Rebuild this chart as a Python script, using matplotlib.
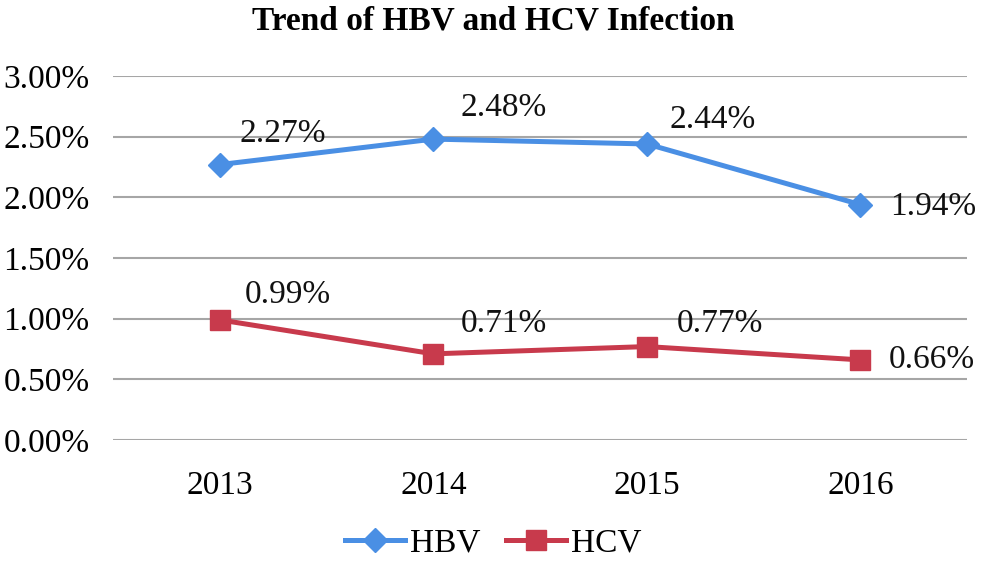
import matplotlib
matplotlib.use("Agg")
import matplotlib.pyplot as plt
import numpy as np

years = ["2013", "2014", "2015", "2016"]
hbv = [2.27, 2.48, 2.44, 1.94]
hcv = [0.99, 0.71, 0.77, 0.66]
yticks = [0.0, 0.5, 1.0, 1.5, 2.0, 2.5, 3.0]

plt.rcParams['font.family'] = ['Liberation Serif', 'DejaVu Serif']

fig = plt.figure(figsize=(9.86, 5.64), dpi=100)
ax = fig.add_axes([0.1146, 0.2199, 0.981 - 0.1146, 0.8652 - 0.2199])

x = np.arange(len(years))
blue = "#4A8FE4"
red = "#C83A4C"
ax.plot(x, hbv, color=blue, lw=3.6, marker="D", ms=12, label="HBV", zorder=3)
ax.plot(x, hcv, color=red, lw=3.6, marker="s", ms=14, label="HCV", zorder=3)

hbv_off = [(20, 31), (27, 31), (23, 24), (30, -2)]
hcv_off = [(25, 25), (27, 30), (30, 23), (28, 0)]
for xi, v, off in zip(x, hbv, hbv_off):
    ax.annotate(f"{v:.2f}%", (xi, v), xytext=off, textcoords="offset pixels",
                ha="left", va="center", fontsize=24, color="#111111")
for xi, v, off in zip(x, hcv, hcv_off):
    ax.annotate(f"{v:.2f}%", (xi, v), xytext=off, textcoords="offset pixels",
                ha="left", va="center", fontsize=24, color="#111111")

ax.set_xlim(-0.5, len(years) - 0.5)
ax.set_ylim(0, 3.0)
ax.set_yticks(yticks)
ax.set_yticklabels([f"{t:.2f}%" for t in yticks], fontsize=24)
ax.set_xticks(x)
ax.set_xticklabels(years, fontsize=24)
ax.tick_params(axis="x", length=0, pad=22)
ax.tick_params(axis="y", length=0, pad=17)
ax.yaxis.grid(True, color="#A6A6A6", lw=1.5)
ax.set_axisbelow(True)
for s in ax.spines.values():
    s.set_visible(False)

fig.suptitle("Trend of HBV and HCV Infection", fontsize=24, fontweight="bold", y=0.99)
fig.legend(loc="center", bbox_to_anchor=(0.5, 0.037), ncol=2, frameon=False,
           fontsize=24, handlelength=1.8, columnspacing=0.75, handletextpad=0.15,
           borderpad=0)

fig.savefig("out.png", dpi=100)
